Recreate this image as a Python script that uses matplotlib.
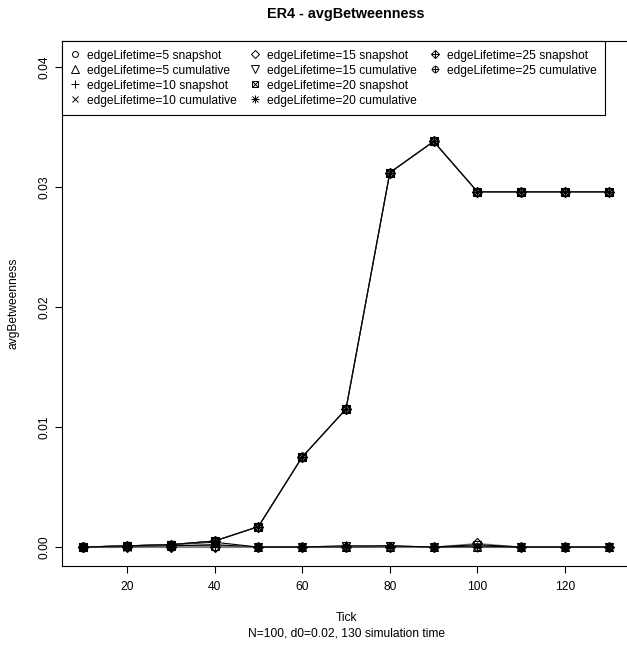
import numpy as np
import matplotlib.pyplot as plt
from matplotlib.lines import Line2D

plt.rcParams['font.family'] = ['Liberation Sans', 'DejaVu Sans']

# x values (simulation ticks)
ticks = [10, 20, 30, 40, 50, 60, 70, 80, 90, 100, 110, 120, 130]

# avgBetweenness
el5_snap = [0, 0, 0, 0, 0, 0, 0, 0, 0, 0, 0, 0, 0]
el5_cum = [0, 0.00005, 0.0001, 0.0001, 0, 0, 0, 0, 0, 0, 0, 0, 0]
el10_snap = [0, 0, 0, 0, 0, 0, 0.0001, 0, 0, 0, 0, 0, 0]
el10_cum = [0, 0, 0.0001, 0.0002, 0, 0, 0, 0.0001, 0, 0.0001, 0, 0, 0]
el15_snap = [0, 0, 0, 0, 0, 0, 0, 0, 0, 0.0003, 0, 0, 0]
el15_cum = [0, 0.0001, 0.0002, 0.0004, 0, 0, 0.0001, 0.0001, 0, 0.0002, 0, 0, 0]
el20_snap = [0, 0.0001, 0.0002, 0.0005, 0.0017, 0.0075, 0.0115, 0.0312, 0.0338, 0.0296, 0.0296, 0.0296, 0.0296]
el20_cum = [0, 0.0001, 0.0002, 0.0005, 0.0017, 0.0075, 0.0115, 0.0312, 0.0338, 0.0296, 0.0296, 0.0296, 0.0296]
el25_snap = [0, 0.0001, 0.0002, 0.0005, 0.0017, 0.0075, 0.0115, 0.0312, 0.0338, 0.0296, 0.0296, 0.0296, 0.0296]
el25_cum = [0, 0.0001, 0.0002, 0.0005, 0.0017, 0.0075, 0.0115, 0.0312, 0.0338, 0.0296, 0.0296, 0.0296, 0.0296]

labels = ['edgeLifetime=5 snapshot', 'edgeLifetime=5 cumulative',
          'edgeLifetime=10 snapshot', 'edgeLifetime=10 cumulative',
          'edgeLifetime=15 snapshot', 'edgeLifetime=15 cumulative',
          'edgeLifetime=20 snapshot', 'edgeLifetime=20 cumulative',
          'edgeLifetime=25 snapshot', 'edgeLifetime=25 cumulative']
series = [el5_snap, el5_cum, el10_snap, el10_cum, el15_snap, el15_cum,
          el20_snap, el20_cum, el25_snap, el25_cum]

# R pch 1..10 built from matplotlib markers (overlaid where needed)
pch = [['o'], ['^'], ['+'], ['x'], ['D'], ['v'],
       ['s', 'x'], ['+', 'x'], ['D', '+'], ['o', '+']]
msize = {'o': 5, '^': 6, '+': 7, 'x': 5.5, 'D': 5, 'v': 6, 's': 5.5}
line_cols = ['#808080', 'black']

fig = plt.figure(figsize=(6.27, 6.46), dpi=100)
ax = fig.add_axes([62/627, 80/646, 568/627, 525/646])

handles = []
for i, (vals, mk) in enumerate(zip(series, pch)):
    ax.plot(ticks, vals, color=line_cols[i % 2], lw=0.8, zorder=2)
    hs = []
    for m in mk:
        ax.plot(ticks, vals, ls='none', marker=m, ms=msize[m], mfc='none',
                mec='black', mew=0.8, zorder=3)
        hs.append(Line2D([], [], ls='none', marker=m, ms=msize[m] * 0.85,
                         mfc='none', mec='black', mew=0.7))
    handles.append(tuple(hs) if len(hs) > 1 else hs[0])

# two blank entries so the legend fills 4 rows per column like R does
blank = Line2D([], [], ls='none')
leg = ax.legend(handles + [blank, blank], labels + ['', ''], ncol=3,
                loc='upper left', bbox_to_anchor=(0, 1), borderaxespad=0,
                fontsize=8.64, handlelength=0.8, handletextpad=0.6,
                columnspacing=1.1, labelspacing=0.25, borderpad=0.72,
                fancybox=False, framealpha=1, edgecolor='black')
leg.get_frame().set_linewidth(0.8)

ax.set_xlim(5.2, 134.8)
ax.set_ylim(-0.00158, 0.04217)
ax.set_xticks([20, 40, 60, 80, 100, 120])
ax.set_yticks([0, 0.01, 0.02, 0.03, 0.04])
ax.set_yticklabels(['0.00', '0.01', '0.02', '0.03', '0.04'])
ax.tick_params(direction='out', length=5, width=0.8, labelsize=8.64, color='black')
ax.tick_params(axis='x', pad=6)
ax.tick_params(axis='y', pad=3.5)
for t in ax.get_yticklabels():
    t.set_rotation(90)
    t.set_va('center')
for s in ax.spines.values():
    s.set_linewidth(0.8)

fig.text(346/627, 1 - 14/646, 'ER4 - avgBetweenness', ha='center', va='center',
         fontsize=10.4, fontweight='bold')
fig.text(346/627, 1 - 618/646, 'Tick', ha='center', va='center', fontsize=8.64)
fig.text(346/627, 1 - 634/646, 'N=100, d0=0.02, 130 simulation time',
         ha='center', va='center', fontsize=8.64)
fig.text(14/627, 1 - 303/646, 'avgBetweenness', ha='center', va='center',
         rotation=90, fontsize=8.64)

fig.savefig('out.png', dpi=100)
